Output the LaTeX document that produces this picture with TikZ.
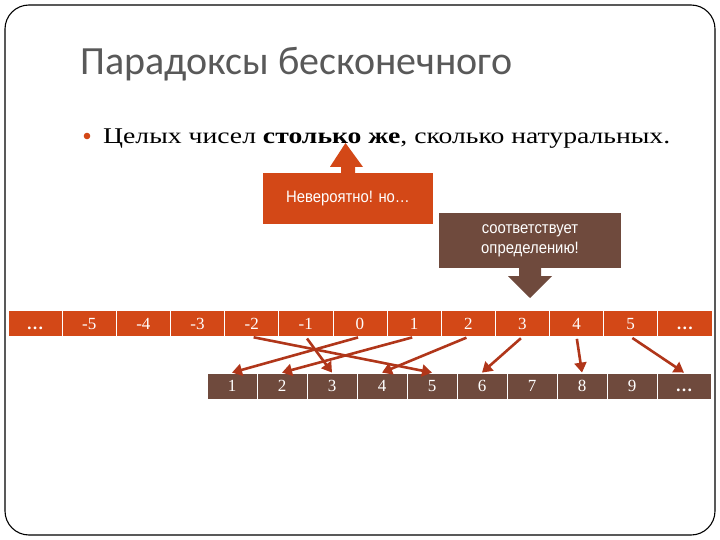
\documentclass[tikz,border=0pt]{standalone}
\usepackage{fontspec}
\setmainfont{Liberation Serif}
\setsansfont{Liberation Sans}
\newfontfamily\titlefont{Carlito}
\newfontfamily\widefont[FakeStretch=1.23]{Liberation Serif}
\newfontfamily\narrowfont[FakeStretch=0.9]{Liberation Sans}
\usetikzlibrary{arrows.meta,positioning}
\definecolor{accent}{HTML}{D34817}
\definecolor{earth}{HTML}{6F4A3D}
\definecolor{linkred}{HTML}{B0361A}
\definecolor{titlegray}{HTML}{595959}

\begin{document}
\begin{tikzpicture}[x=1pt, y=-1pt,
    topcell/.style={rectangle, fill=accent, draw=white, line width=0.8pt, minimum width=54.15pt, minimum height=26pt, inner sep=0pt, text height=11.5pt, text depth=0pt, text=white, font=\fontsize{17}{19}\selectfont},
    natcell/.style={rectangle, fill=earth, draw=white, line width=0.8pt, minimum width=50pt, minimum height=26pt, inner sep=0pt, text height=11.5pt, text depth=0pt, text=white, font=\fontsize{17}{19}\selectfont},
    note/.style={rectangle, text=white, inner sep=0pt, align=center, font=\narrowfont\fontsize{16.5}{20}\selectfont},
    link/.style={draw=linkred, line width=2.6pt, shorten <=2pt, -{Triangle[length=10pt,width=12pt]}}
]
    \useasboundingbox (0,0) rectangle (720,540);
    % slide frame
    \draw[line width=1.1pt, rounded corners=24pt] (5,5) rectangle (715,535);

    % title and bullet
    \node[anchor=base west, text=titlegray, font=\titlefont\fontsize{40}{44}\selectfont, inner sep=0pt] (title) at (80,75) {Парадоксы бесконечного};
    \fill[accent] (87,136) circle (3.3pt);
    \node[anchor=base west, font=\widefont\fontsize{22.5}{26}\selectfont, inner sep=0pt] (claim) at (103,144) {Целых чисел \textbf{столько же}, сколько натуральных.};

    % integers
    \foreach \v [count=\i] in {\textbf{\ldots},-5,-4,-3,-2,-1,0,1,2,3,4,5,\textbf{\ldots}}
        \node[topcell] (t\i) at ({8+54.15*(\i-0.5)},323.5) {\v};

    % naturals
    \foreach \v [count=\j] in {1,2,3,4,5,6,7,8,9}
        \node[natcell] (b\j) at ({207+50*(\j-0.5)},386) {\v};
    \node[natcell, minimum width=54pt] (b10) at (684,386) {\textbf{\ldots}};

    % callouts
    \node[note, fill=accent, minimum width=170pt, minimum height=51pt] (wow) at (348,198.5) {Невероятно! но\ldots};
    \fill[accent] ([xshift=-7pt]wow.north) -- ++(0,-6) -- ++(-11,0) -- (345.5,143) -- (363,167) -- ([xshift=7pt]wow.north |- 0,167) -- ([xshift=7pt]wow.north) -- cycle;
    \node[note, fill=earth, minimum width=182pt, minimum height=55pt] (def) at (530,240.5) {соответствует\\определению!};
    \fill[earth] ([xshift=-11pt]def.south) -- ++(0,8) -- ++(-11,0) -- (530,298) -- (552,276) -- ([xshift=11pt]def.south |- 0,276) -- ([xshift=11pt]def.south) -- cycle;

    % correspondence
    \draw[link] (t7.south) -- (b1.north);
    \draw[link] (t8.south) -- (b2.north);
    \draw[link] (t6.south) -- (b3.north);
    \draw[link] (t9.south) -- (b4.north);
    \draw[link] (t5.south) -- (b5.north);
    \draw[link] (t10.south) -- (b6.north);
    \draw[link] (t11.south) -- (b8.north);
    \draw[link] (t12.south) -- (b10.north);
\end{tikzpicture}
\end{document}
